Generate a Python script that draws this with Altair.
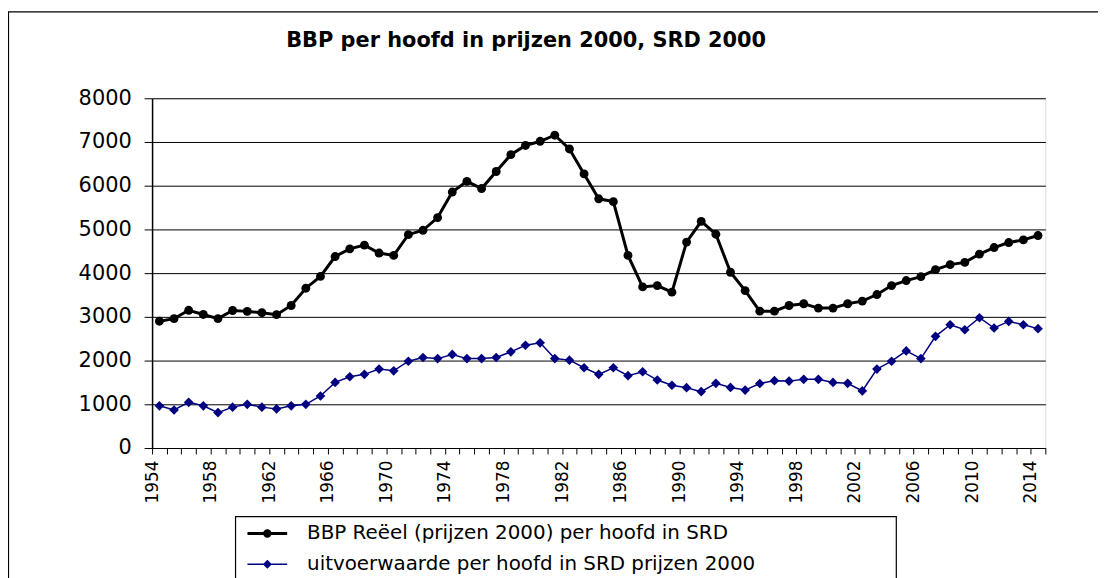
import altair as alt
import pandas as pd

years = list(range(1954, 2015))
bbp = [2900, 2960, 3150, 3055, 2960, 3145, 3125, 3095, 3050, 3260,
       3655, 3925, 4380, 4555, 4640, 4460, 4405, 4880, 4980, 5270,
       5855, 6100, 5935, 6325, 6710, 6920, 7015, 7155, 6840, 6270,
       5700, 5635, 4405, 3685, 3715, 3565, 4710, 5185, 4890, 4020,
       3600, 3130, 3130, 3260, 3300, 3200, 3200, 3300, 3360, 3510,
       3715, 3830, 3920, 4080, 4195, 4245, 4435, 4585, 4700, 4760,
       4860]
uitvoer = [965, 870, 1045, 965, 810, 935, 1000, 935, 895, 965,
           1000, 1190, 1500, 1630, 1685, 1805, 1765, 1985, 2070, 2045,
           2140, 2045, 2045, 2070, 2200, 2350, 2405, 2045, 2010, 1835,
           1685, 1835, 1655, 1745, 1555, 1435, 1380, 1290, 1480, 1385,
           1325, 1475, 1540, 1530, 1570, 1570, 1500, 1480, 1305, 1805,
           1985, 2220, 2045, 2555, 2820, 2705, 2980, 2745, 2895, 2820,
           2730]
series_names = ["BBP Reëel (prijzen 2000) per hoofd in SRD",
                "uitvoerwaarde per hoofd  in SRD prijzen 2000"]
series_colors = ["#000000", "#000080"]
title_text = "BBP per hoofd in prijzen 2000, SRD 2000"
y_ticks = list(range(0, 8001, 1000))

df = pd.DataFrame({
    "year": years * 2,
    "value": bbp + uitvoer,
    "series": [series_names[0]] * len(years) + [series_names[1]] * len(years),
})

FONT = "DejaVu Sans"
boundaries = [y - 0.5 for y in years] + [years[-1] + 0.5]

x_enc = alt.X(
    "year:Q",
    scale=alt.Scale(domain=[years[0] - 0.5, years[-1] + 0.5], nice=False, zero=False),
    axis=alt.Axis(
        values=boundaries,
        labelExpr="(datum.value + 0.5 - 1954) % 4 == 0 ? toString(datum.value + 0.5) : ''",
        labelAngle=270, labelAlign="right", labelBaseline="middle",
        labelOverlap=False, labelFlush=False, labelBound=False,
        labelFont=FONT, labelFontSize=17, labelColor="black",
        labelPadding=6, tickSize=6, tickColor="black", domainColor="black",
        domainWidth=1, grid=False, title=None,
    ),
)
y_enc = alt.Y(
    "value:Q",
    scale=alt.Scale(domain=[0, 8000], nice=False),
    axis=alt.Axis(
        values=y_ticks, format="d", title=None, grid=True, gridColor="black",
        gridWidth=1, gridOpacity=1, tickSize=8, tickColor="black",
        labelPadding=13, labelFont=FONT, labelFontSize=21, labelColor="black",
        domainColor="black", domainWidth=1.5,
    ),
)

base = alt.Chart(df)
f_bbp = alt.datum.series == series_names[0]
f_uit = alt.datum.series == series_names[1]

line_bbp = base.transform_filter(f_bbp).mark_line(
    color=series_colors[0], strokeWidth=3).encode(x=x_enc, y=y_enc)
line_uit = base.transform_filter(f_uit).mark_line(
    color=series_colors[1], strokeWidth=1.5).encode(x=x_enc, y=y_enc)
pts_bbp = base.transform_filter(f_bbp).mark_point(
    shape="circle", filled=True, color=series_colors[0], size=80, opacity=1).encode(x=x_enc, y=y_enc)
pts_uit = base.transform_filter(f_uit).mark_point(
    shape="diamond", filled=True, color=series_colors[1], size=95, opacity=1).encode(x=x_enc, y=y_enc)

circle_path = "M-4,0H4M-0.55,0A0.55,0.55 0 1,0 0.55,0A0.55,0.55 0 1,0 -0.55,0Z"
diamond_path = "M-4,0H4M0,-0.7L0.7,0L0,0.7L-0.7,0Z"

legend = alt.Legend(
    orient="none", legendX=82, legendY=419, title=None,
    padding=9, cornerRadius=0,
    labelFont=FONT, labelFontSize=20, labelColor="black", labelLimit=2000,
    symbolOffset=15, labelOffset=30, rowPadding=11, symbolOpacity=1,
)

legend_layer = base.mark_point(filled=True, opacity=0, size=210).encode(
    x=x_enc, y=y_enc,
    fill=alt.Fill("series:N", scale=alt.Scale(domain=series_names, range=series_colors), legend=legend),
    stroke=alt.Stroke("series:N", scale=alt.Scale(domain=series_names, range=series_colors), legend=legend),
    shape=alt.Shape("series:N", scale=alt.Scale(domain=series_names, range=[circle_path, diamond_path]), legend=legend),
    strokeWidth=alt.StrokeWidth("series:N", scale=alt.Scale(domain=series_names, range=[3, 1.5]), legend=legend),
)

deco = alt.Chart(pd.DataFrame({"a": [0]}))
frame = deco.mark_rect(fillOpacity=0, stroke="black", strokeWidth=1.2).encode(
    x=alt.value(-144.5), x2=alt.value(1200), y=alt.value(-87), y2=alt.value(700))
legend_box = deco.mark_rect(fill="white", stroke="black", strokeWidth=1.2).encode(
    x=alt.value(84), x2=alt.value(749), y=alt.value(421), y2=alt.value(700))

chart = alt.layer(frame, legend_box, line_uit, line_bbp, pts_uit, pts_bbp, legend_layer).properties(
    width=899, height=352,
    title=alt.Title(title_text, font=FONT, fontSize=21, fontWeight="bold", color="black",
                    anchor="middle", frame="group", dx=-73, offset=0, dy=56.6, baseline="alphabetic"),
    autosize=alt.AutoSizeParams(type="none"),
    padding={"left": 145, "top": 89, "right": 53, "bottom": 130},
).configure_view(stroke="black", strokeWidth=1.5).configure(background="white")

chart.save("out.html", embed_options={"renderer": "svg", "actions": False})
